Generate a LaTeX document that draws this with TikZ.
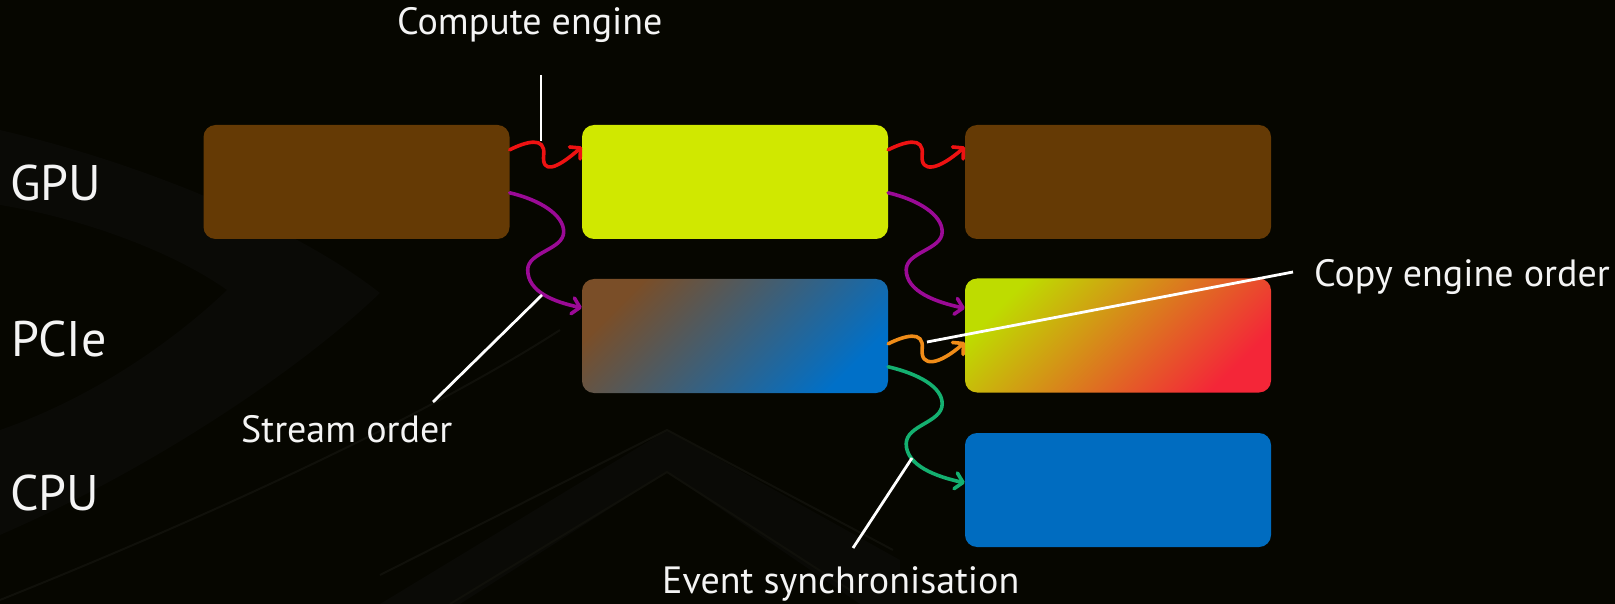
\documentclass[tikz,border=0pt]{standalone}
\usepackage{fontspec}
\setmainfont{PT Sans}
\usetikzlibrary{arrows.meta,calc}

\definecolor{bgcol}{HTML}{060600}
\definecolor{logocol}{HTML}{0A0A06}
\definecolor{logoline}{HTML}{10100A}
\definecolor{brownbox}{HTML}{653A05}
\definecolor{limebox}{HTML}{D0E800}
\definecolor{bluebox}{HTML}{006CC0}
\definecolor{pcieA}{HTML}{7A4E28}
\definecolor{pcieB}{HTML}{4F5A66}
\definecolor{pcieC}{HTML}{0070C8}
\definecolor{copyA}{HTML}{BEDC00}
\definecolor{copyB}{HTML}{DE8A32}
\definecolor{copyC}{HTML}{F42638}
\definecolor{arrred}{HTML}{EE1212}
\definecolor{arrpurple}{HTML}{9A0A96}
\definecolor{arrorange}{HTML}{F08C18}
\definecolor{arrgreen}{HTML}{14B070}
\definecolor{txt}{HTML}{F4F4F4}

\tikzset{
  box/.style={rectangle, rounded corners=12pt, minimum width=306pt,
    minimum height=114pt, inner sep=0pt, draw=none},
  rowlabel/.style={anchor=base west, inner sep=0pt, text=txt,
    font=\fontsize{50}{54}\selectfont},
  notelabel/.style={anchor=base west, inner sep=0pt, text=txt,
    font=\fontsize{38}{42}\selectfont},
  wave/.style={line width=3.6pt, line cap=round, line join=round,
    -{Straight Barb[length=7.5pt,width=16pt,round]}},
  leader/.style={draw=white, line width=2.8pt}
}

\begin{document}
\begin{tikzpicture}[x=1pt,y=-1pt]
  % canvas
  \fill[bgcol] (0,0) rectangle (1615,604);
  \useasboundingbox (0,0) rectangle (1615,604);

  % faint logo swirl behind everything
  \fill[logocol] (0,130) .. controls (150,165) and (300,230) .. (380,293)
    .. controls (300,370) and (150,470) .. (0,535) -- (0,430)
    .. controls (100,395) and (180,335) .. (227,290)
    .. controls (170,250) and (80,218) .. (0,205) -- cycle;
  \fill[logocol] (380,604) -- (667,430) -- (900,560) -- (900,604)
    -- (860,604) -- (667,472) -- (460,604) -- cycle;
  \draw[logoline, line width=2pt] (380,575) -- (667,430) -- (893,550);
  \draw[logoline, line width=2pt] (450,604) -- (667,472) -- (850,590);
  \draw[logoline, line width=2pt] (0,600) .. controls (200,520) and (420,420) .. (560,330);

  % row labels
  \node[rowlabel] (lgpu)  at (10,201) {GPU};
  \node[rowlabel] (lpcie) at (11,356) {PCIe};
  \node[rowlabel] (lcpu)  at (10,510) {CPU};

  % task boxes
  \node[box, fill=brownbox] (g1) at (356.5,182) {};
  \node[box, fill=limebox]  (g2) at (735,182) {};
  \node[box, fill=brownbox] (g3) at (1118,182) {};
  \node[box, shading=axis, top color=pcieA, middle color=pcieB,
        bottom color=pcieC, shading angle=45] (p2) at (735,336) {};
  \node[box, shading=axis, top color=copyA, middle color=copyB,
        bottom color=copyC, shading angle=45] (p3) at (1118,335.5) {};
  \node[box, fill=bluebox] (c3) at (1118,490) {};

  % compute engine hops (short squiggles)
  \draw[wave, arrred] ($(g1.north east)+(0,25)$)
    .. controls +(16,-8) and +(2,-19) .. ++(34,5)
    .. controls +(-2,19) and +(-26,23) .. ($(g2.north west)+(0,22)$);
  \draw[wave, arrred] ($(g2.north east)+(0,25)$)
    .. controls +(16,-8) and +(2,-19) .. ++(34,5)
    .. controls +(-2,19) and +(-26,23) .. ($(g3.north west)+(0,22)$);

  % copy engine hop
  \draw[wave, arrorange] ($(p2.north east)+(0,65)$)
    .. controls +(16,-8) and +(2,-19) .. ++(34,5)
    .. controls +(-2,19) and +(-26,23) .. ($(p3.north west)+(0,64)$);

  % stream order (long S curves)
  \draw[wave, arrpurple] ($(g1.north east)+(0,68)$)
    .. controls +(30,7) and +(0,-17) .. ++(54,39)
    .. controls +(0,18) and +(0,-18) .. ++(-36,38)
    .. controls +(0,22) and +(-28,-6) .. ($(p2.north west)+(0,29)$);
  \draw[wave, arrpurple] ($(g2.north east)+(0,68)$)
    .. controls +(30,7) and +(0,-17) .. ++(54,39)
    .. controls +(0,18) and +(0,-18) .. ++(-36,38)
    .. controls +(0,22) and +(-28,-6) .. ($(p3.north west)+(0,30)$);

  % event synchronisation
  \draw[wave, arrgreen] ($(p2.north east)+(0,88)$)
    .. controls +(30,7) and +(0,-17) .. ++(54,37)
    .. controls +(0,19) and +(0,-19) .. ++(-36,40)
    .. controls +(0,22) and +(-28,-6) .. ($(c3.north west)+(0,50)$);

  % annotation texts
  \node[notelabel] (tcompute) at (397,35)  {Compute engine};
  \node[notelabel] (tstream)  at (241,442) {Stream order};
  \node[notelabel] (tcopy)    at (1314,287) {Copy engine order};
  \node[notelabel] (tevent)   at (662,593) {Event synchronisation};

  % leader line end points
  \coordinate (ceTop) at (541,75);
  \coordinate (ceHit) at (541,141);
  \coordinate (soEnd) at (433,402);
  \coordinate (soHit) at (542,295);
  \coordinate (coEnd) at (1293,272);
  \coordinate (coHit) at (927,342);
  \coordinate (esEnd) at (853,548);
  \coordinate (esHit) at (912,458);

  \draw[leader] (ceTop) -- (ceHit);
  \draw[leader] (soEnd) -- (soHit);
  \draw[leader] (coHit) -- (coEnd);
  \draw[leader] (esEnd) -- (esHit);
\end{tikzpicture}
\end{document}
